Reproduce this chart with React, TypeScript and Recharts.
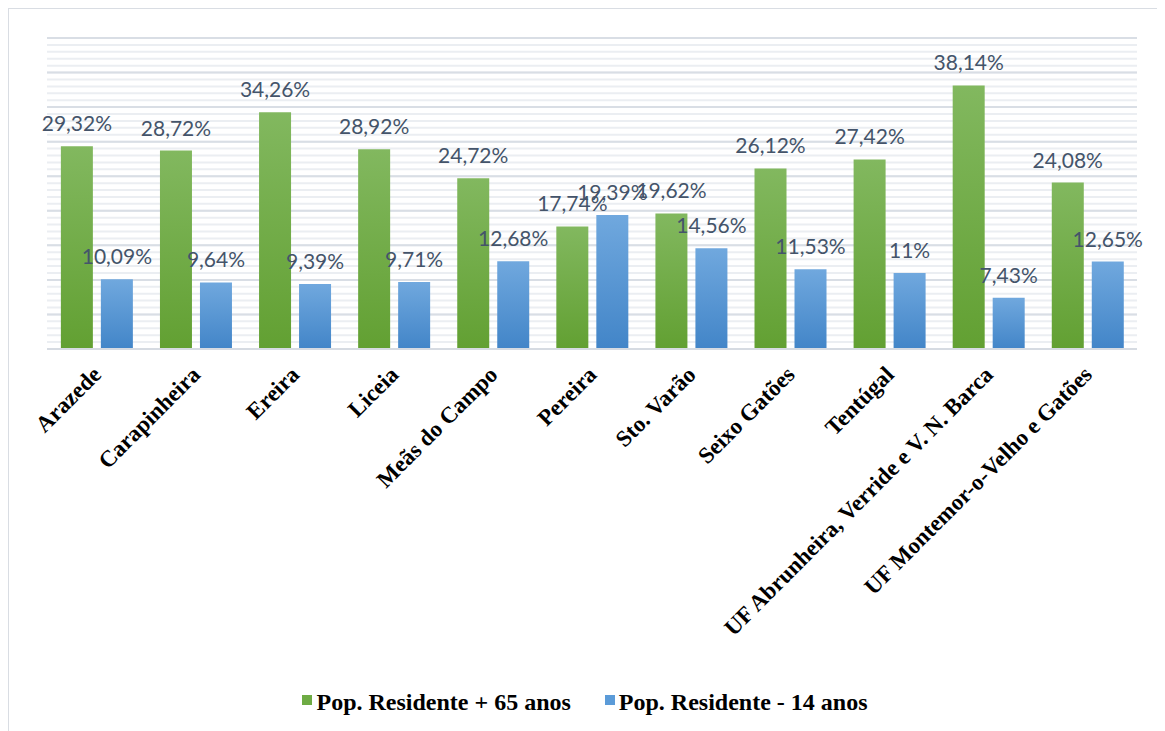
import React from "react";
import {
  BarChart,
  Bar,
  XAxis,
  YAxis,
  Legend,
  CartesianGrid,
  LabelList,
} from "recharts";

const categories = [
  "Arazede",
  "Carapinheira",
  "Ereira",
  "Liceia",
  "Meãs do Campo",
  "Pereira",
  "Sto. Varão",
  "Seixo Gatões",
  "Tentúgal",
  "UF Abrunheira, Verride e V. N. Barca",
  "UF Montemor-o-Velho e Gatões",
];
const over65 = [29.32, 28.72, 34.26, 28.92, 24.72, 17.74, 19.62, 26.12, 27.42, 38.14, 24.08];
const under14 = [10.09, 9.64, 9.39, 9.71, 12.68, 19.39, 14.56, 11.53, 11, 7.43, 12.65];
const majorTicks = [0, 5, 10, 15, 20, 25, 30, 35, 40, 45];
const minorTicks = [
  0, 1, 2, 3, 4, 5, 6, 7, 8, 9, 10, 11, 12, 13, 14, 15, 16, 17, 18, 19, 20, 21, 22,
  23, 24, 25, 26, 27, 28, 29, 30, 31, 32, 33, 34, 35, 36, 37, 38, 39, 40, 41, 42, 43,
  44, 45,
];

const data = categories.map((name, i) => ({
  name,
  over65: over65[i],
  under14: under14[i],
}));

const fmt = (v: any) => String(v).replace(".", ",") + "%";

const serif = "'Liberation Serif', 'Times New Roman', serif";
const labelStyle = { fontFamily: "Lato, 'Liberation Sans', sans-serif", fontSize: 21 };

const CategoryTick = (props: any) => {
  const { x, y, payload } = props;
  const ax = x + 6;
  const ay = y + 19;
  return (
    <text
      x={ax}
      y={ay}
      transform={`rotate(-45, ${ax}, ${ay})`}
      textAnchor="end"
      fill="#000"
      style={{ fontFamily: serif, fontWeight: "bold", fontSize: 23 }}
    >
      {payload.value}
    </text>
  );
};

const LegendContent = () => (
  <div
    style={{
      display: "flex",
      justifyContent: "center",
      gap: 34,
      fontFamily: serif,
      fontWeight: "bold",
      fontSize: 24,
      color: "#000",
      paddingRight: 14,
    }}
  >
    <div style={{ display: "flex", alignItems: "center" }}>
      <span
        style={{ width: 10, height: 10, background: "#6eab44", display: "inline-block", marginRight: 4, marginTop: -6 }}
      />
      Pop. Residente + 65 anos
    </div>
    <div style={{ display: "flex", alignItems: "center" }}>
      <span
        style={{ width: 10, height: 10, background: "#5b9bd8", display: "inline-block", marginRight: 4, marginTop: -6 }}
      />
      Pop. Residente - 14 anos
    </div>
  </div>
);

export default function App() {
  return (
    <div
      style={{
        width: 1154,
        height: 730,
        border: "1px solid #d9dde3",
        background: "#fff",
      }}
    >
      <BarChart
        width={1154}
        height={722}
        data={data}
        margin={{ top: 29, right: 26, left: 38, bottom: 0 }}
        barCategoryGap="14%"
        barGap={8}
      >
        <defs>
          <linearGradient id="greenGrad" x1="0" y1="0" x2="0" y2="1">
            <stop offset="0%" stopColor="#82b85f" />
            <stop offset="100%" stopColor="#62a032" />
          </linearGradient>
          <linearGradient id="blueGrad" x1="0" y1="0" x2="0" y2="1">
            <stop offset="0%" stopColor="#70a8de" />
            <stop offset="100%" stopColor="#4285c8" />
          </linearGradient>
        </defs>
        <YAxis hide domain={[0, 45]} ticks={majorTicks} interval={0} />
        <XAxis
          dataKey="name"
          height={340}
          interval={0}
          axisLine={{ stroke: "#d6dbe2", strokeWidth: 2 }}
          tickLine={false}
          tick={<CategoryTick />}
        />
        <CartesianGrid
          vertical={false}
          stroke="#ebeef2"
          strokeWidth={2}
          horizontalValues={minorTicks}
        />
        <CartesianGrid vertical={false} stroke="#d9dee5" strokeWidth={2} />
        <Legend verticalAlign="bottom" height={42} content={<LegendContent />} />
        <Bar dataKey="over65" fill="url(#greenGrad)" isAnimationActive={false}>
          <LabelList
            dataKey="over65"
            position="top"
            offset={15}
            formatter={fmt}
            fill="#44546a"
            style={labelStyle}
          />
        </Bar>
        <Bar dataKey="under14" fill="url(#blueGrad)" isAnimationActive={false}>
          <LabelList
            dataKey="under14"
            position="top"
            offset={15}
            formatter={fmt}
            fill="#44546a"
            style={labelStyle}
          />
        </Bar>
      </BarChart>
    </div>
  );
}
